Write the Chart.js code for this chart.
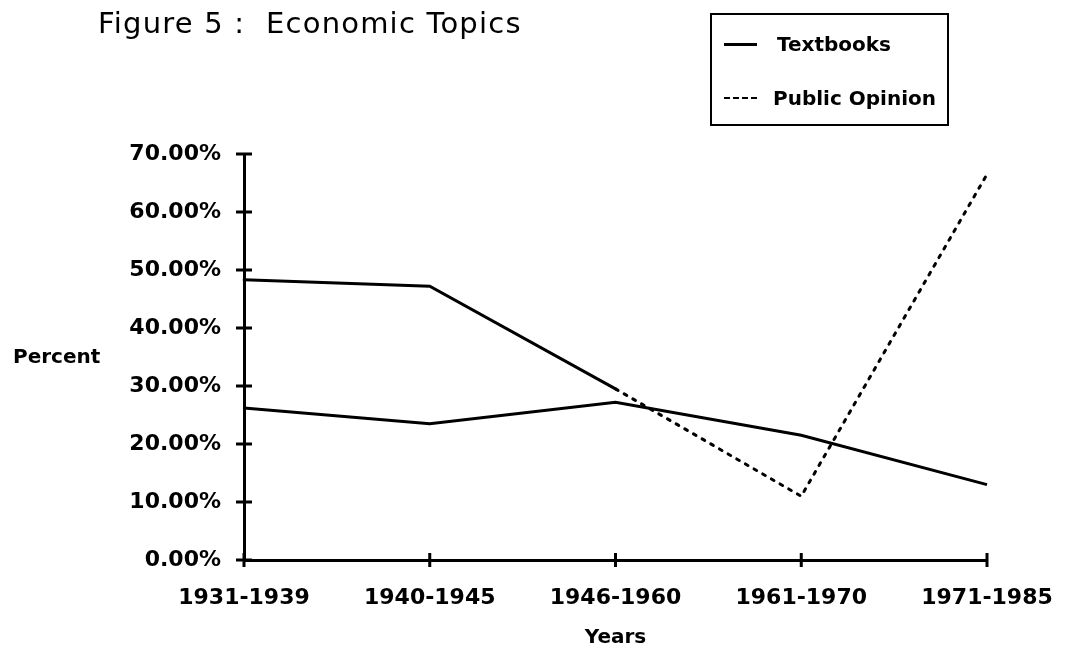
<!DOCTYPE html>
<html>
<head>
<meta charset="utf-8">
<script src="https://cdn.jsdelivr.net/npm/chart.js@4.4.0/dist/chart.umd.min.js"></script>
<style>
    body { margin: 0; background: #fff; font-family: "DejaVu Sans", sans-serif; color: #000; }
    #wrap { position: relative; width: 1065px; height: 659px; overflow: hidden; }
    #chart { position: absolute; left: 0; top: 0; }
    #title { position: absolute; left: 98px; top: 6px; font-size: 29px; white-space: pre; letter-spacing: 1.2px; }
    #y-title { position: absolute; left: 13px; top: 344px; font-size: 20px; font-weight: bold; }
    #legend { position: absolute; left: 710px; top: 13px; width: 235px; height: 109px; border: 2px solid #000; }
    .leg-row { position: absolute; left: 12px; height: 24px; display: flex; align-items: center; font-size: 20px; font-weight: bold; }
    .leg-line { width: 33px; height: 0; border-top: 3px solid #000; margin-right: 20px; }
    .leg-line.dash { border-top-style: dashed; border-top-width: 2px; margin-right: 16px; }
</style>
</head>
<body>
<div id="wrap">
    <canvas id="chart" width="1065" height="659"></canvas>
    <div id="title">Figure 5 :  Economic Topics</div>
    <div id="y-title">Percent</div>
    <div id="legend"></div>
</div>
<script>
// Datos
const categories = ["1931-1939", "1940-1945", "1946-1960", "1961-1970", "1971-1985"];
const textbooks = [26.2, 23.5, 27.2, 21.5, 13.0];
const publicOpinion = [48.3, 47.2, 29.5, 11.0, 66.5];
const seriesLabels = ["Textbooks", "Public Opinion"];
const yMax = 70;
const yStep = 10;

// Cruces de las marcas en los ejes (como en el original)
const tickCrosses = {
    id: "tickCrosses",
    afterDraw(chart) {
        const { ctx, scales: { x, y } } = chart;
        ctx.save();
        ctx.strokeStyle = "#000";
        ctx.lineWidth = 3;
        ctx.beginPath();
        y.ticks.forEach((t, i) => {
            const py = y.getPixelForTick(i);
            ctx.moveTo(x.left - 8, py);
            ctx.lineTo(x.left + 8, py);
        });
        x.ticks.forEach((t, i) => {
            const px = x.getPixelForTick(i);
            ctx.moveTo(px, y.bottom - 7);
            ctx.lineTo(px, y.bottom + 7);
        });
        ctx.stroke();
        ctx.restore();
    }
};

const ctx = document.getElementById("chart").getContext("2d");
const chart = new Chart(ctx, {
    type: "line",
    data: {
        labels: categories,
        datasets: [
            {
                label: seriesLabels[0],
                data: textbooks,
                borderColor: "#000",
                borderWidth: 3,
                pointRadius: 0,
                tension: 0
            },
            {
                label: seriesLabels[1],
                data: publicOpinion,
                borderColor: "#000",
                borderWidth: 3,
                pointRadius: 0,
                tension: 0,
                borderCapStyle: "round",
                segment: {
                    borderDash: c => c.p0DataIndex >= 2 ? [3, 7] : undefined
                }
            }
        ]
    },
    options: {
        responsive: false,
        animation: false,
        layout: { padding: { top: 154, right: 78, bottom: 0, left: 0 } },
        plugins: {
            legend: { display: false },
            tooltip: { enabled: false }
        },
        scales: {
            x: {
                type: "category",
                offset: false,
                afterFit: s => { s.height = 99; s.paddingLeft = 0; s.paddingRight = 0; },
                grid: { display: false, drawTicks: false },
                border: { display: true, color: "#000", width: 3 },
                ticks: {
                    color: "#000",
                    font: { family: "DejaVu Sans", size: 22, weight: "bold" },
                    padding: 25,
                    maxRotation: 0,
                    autoSkip: false
                },
                title: {
                    display: true,
                    text: "Years",
                    color: "#000",
                    font: { family: "DejaVu Sans", size: 20, weight: "bold" },
                    padding: { top: 0, bottom: 9 }
                }
            },
            y: {
                min: 0,
                max: yMax,
                afterFit: s => { s.width = 244; s.paddingTop = 0; s.paddingBottom = 0; },
                grid: { display: false, drawTicks: false },
                border: { display: true, color: "#000", width: 3 },
                ticks: {
                    stepSize: yStep,
                    color: "#000",
                    font: { family: "DejaVu Sans", size: 22, weight: "bold" },
                    padding: 23,
                    callback: v => v.toFixed(2) + "%"
                }
            }
        }
    },
    plugins: [tickCrosses]
});

// Leyenda en HTML con el recuadro del original
const legend = document.getElementById("legend");
chart.data.datasets.forEach((ds, i) => {
    const row = document.createElement("div");
    row.className = "leg-row";
    row.style.top = (i === 0 ? 17 : 71) + "px";
    row.innerHTML = `<span class="leg-line${i === 1 ? " dash" : ""}"></span>${ds.label}`;
    legend.appendChild(row);
});
</script>
</body>
</html>
